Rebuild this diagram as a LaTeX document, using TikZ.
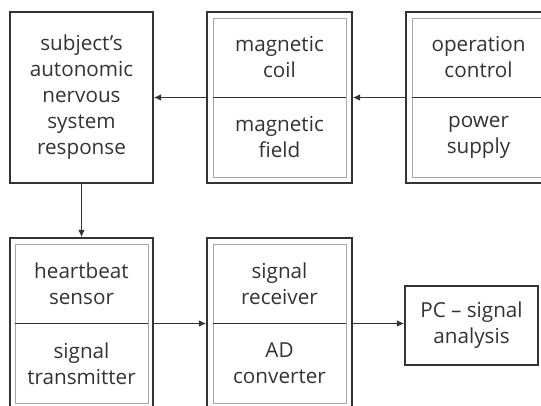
\documentclass[tikz,border=0pt]{standalone}
\usepackage{fontspec}
\setmainfont{Open Sans}
\usetikzlibrary{arrows.meta}
\definecolor{linegray}{HTML}{333333}
\definecolor{textgray}{HTML}{333333}
\definecolor{rimgray}{HTML}{A8A8A8}

\begin{document}
\begin{tikzpicture}[x=0.75pt, y=-0.75pt, >={Latex[length=5.5pt, width=5pt]},
        frame/.style={draw=linegray, line width=1.3pt, minimum width=108.75pt,
            minimum height=128.25pt, inner sep=0pt},
        rim/.style={draw=rimgray, line width=0.7pt, minimum width=99.75pt,
            minimum height=119.25pt, inner sep=0pt},
        txt/.style={align=center, text=textgray, font=\fontsize{15.5}{19.5}\selectfont},
        divline/.style={draw=linegray, line width=0.7pt},
        conn/.style={->, draw=linegray, line width=0.8pt}]
    \useasboundingbox (0,0) rectangle (541,405);
    \clip (0,0) rectangle (541,405);

    % top row
    \node[frame, minimum width=107.25pt] (subject) at (81.5,97.5) {};
    \node[txt] (response) at (subject.center)
        {subject's\\autonomic\\nervous\\system\\response};

    \node[frame] (magbox) at (279.5,97.5) {};
    \node[rim] (magrim) at (magbox.center) {};
    \draw[divline] (magrim.west) -- (magrim.east);
    \node[txt] (coil) at (279.5,57.5) {magnetic\\coil};
    \node[txt] (field) at (279.5,137.5) {magnetic\\field};

    \node[frame] (ctrlbox) at (478.5,97.5) {};
    \node[rim] (ctrlrim) at (ctrlbox.center) {};
    \draw[divline] (ctrlrim.west) -- (ctrlrim.east);
    \node[txt] (control) at (478.5,57.5) {operation\\control};
    \node[txt] (supply) at (478.5,137.5) {power\\supply};

    % bottom row
    \node[frame, minimum width=107.25pt] (sensbox) at (81.5,323.5) {};
    \node[rim, minimum width=99.75pt] (sensrim) at (sensbox.center) {};
    \draw[divline] (sensrim.west) -- (sensrim.east);
    \node[txt] (sensor) at (81.5,283.5) {heartbeat\\sensor};
    \node[txt] (transmitter) at (81.5,363.5) {signal\\transmitter};

    \node[frame] (recvbox) at (279.5,323.5) {};
    \node[rim] (recvrim) at (recvbox.center) {};
    \draw[divline] (recvrim.west) -- (recvrim.east);
    \node[txt] (receiver) at (279.5,283.5) {signal\\receiver};
    \node[txt] (converter) at (279.5,363.5) {AD\\converter};

    \node[frame, minimum width=99.75pt, minimum height=59.25pt] (pc) at (471.5,325.5)
        {};
    \node[txt] (analysis) at (pc.center) {PC -- signal\\analysis};

    % connectors
    \draw[conn] (ctrlbox.west) -- (magbox.east);
    \draw[conn] (magbox.west) -- (subject.east);
    \draw[conn] (subject.south) -- (sensbox.north);
    \draw[conn] (sensbox.east) -- (recvbox.west);
    \draw[conn] (recvbox.east) -- (recvbox.east -| pc.west);
\end{tikzpicture}
\end{document}
